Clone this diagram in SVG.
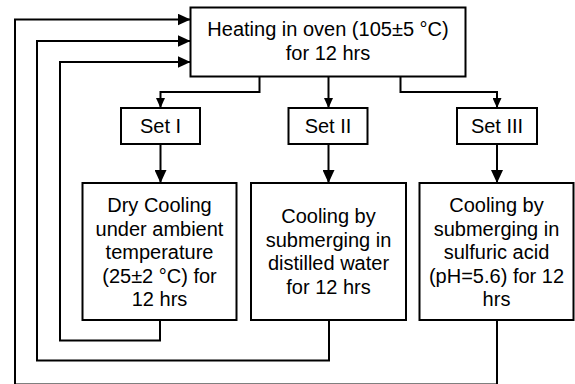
<svg xmlns="http://www.w3.org/2000/svg" width="575" height="384" viewBox="0 0 575 384">
<style>
.box{fill:#fff;stroke:#000;stroke-width:2}
.t{font-family:"Liberation Sans",Arial,sans-serif;font-size:20px;fill:#000;text-anchor:middle}
.c{fill:none;stroke:#000;stroke-width:2}
</style>
<defs>
<marker id="big" viewBox="0 0 13 12" refX="13" refY="6" markerWidth="13" markerHeight="12" markerUnits="userSpaceOnUse" orient="auto"><path d="M0,0 L13,6 L0,12 z" fill="#000"/></marker>
<marker id="small" viewBox="0 0 10 9" refX="10" refY="4.5" markerWidth="10" markerHeight="9" markerUnits="userSpaceOnUse" orient="auto"><path d="M0,0 L10,4.5 L0,9 z" fill="#000"/></marker>
</defs>
<rect width="575" height="384" fill="#fff"/>
<g id="connectors">
<path class="c" d="M259.5,77 V92 H160.5 V108" marker-end="url(#small)"/>
<path class="c" d="M328.5,77 V108" marker-end="url(#small)"/>
<path class="c" d="M400.5,77 V92 H497 V108" marker-end="url(#small)"/>
<path class="c" d="M160.5,144 V183" marker-end="url(#big)"/>
<path class="c" d="M328.5,144 V183" marker-end="url(#big)"/>
<path class="c" d="M497,144 V183" marker-end="url(#big)"/>
<path class="c" d="M160,320 V340.5 H60 V62 H190.5" marker-end="url(#big)"/>
<path class="c" d="M329,320 V360.5 H37 V41 H190.5" marker-end="url(#big)"/>
<path class="c" d="M497,320 V384.6 H15 V19.5 H190.5" marker-end="url(#big)"/>
</g>
<g id="heating">
<rect class="box" x="190.5" y="7.5" width="275" height="69"/>
<text class="t" x="328" y="36">Heating in oven (105±5 °C)</text>
<text class="t" x="328" y="60">for 12 hrs</text>
</g>
<g id="set1">
<rect class="box" x="121" y="108" width="79" height="36"/>
<text class="t" x="160.5" y="133">Set I</text>
</g>
<g id="set2">
<rect class="box" x="288.5" y="108" width="79" height="36"/>
<text class="t" x="328" y="133">Set II</text>
</g>
<g id="set3">
<rect class="box" x="457" y="108" width="80" height="36"/>
<text class="t" x="497" y="133">Set III</text>
</g>
<g id="dry">
<rect class="box" x="82.5" y="183" width="154" height="137"/>
<text class="t" x="159.5" y="212">Dry Cooling</text>
<text class="t" x="159.5" y="235.5">under ambient</text>
<text class="t" x="159.5" y="259">temperature</text>
<text class="t" x="159.5" y="282.5">(25±2 °C) for</text>
<text class="t" x="159.5" y="306">12 hrs</text>
</g>
<g id="water">
<rect class="box" x="251" y="183" width="155" height="137"/>
<text class="t" x="328.5" y="223">Cooling by</text>
<text class="t" x="328.5" y="246.5">submerging in</text>
<text class="t" x="328.5" y="270">distilled water</text>
<text class="t" x="328.5" y="293.5">for 12 hrs</text>
</g>
<g id="acid">
<rect class="box" x="419.5" y="183" width="154" height="137"/>
<text class="t" x="496.5" y="212">Cooling by</text>
<text class="t" x="496.5" y="235.5">submerging in</text>
<text class="t" x="496.5" y="259">sulfuric acid</text>
<text class="t" x="496.5" y="282.5">(pH=5.6) for 12</text>
<text class="t" x="496.5" y="306">hrs</text>
</g>
</svg>
